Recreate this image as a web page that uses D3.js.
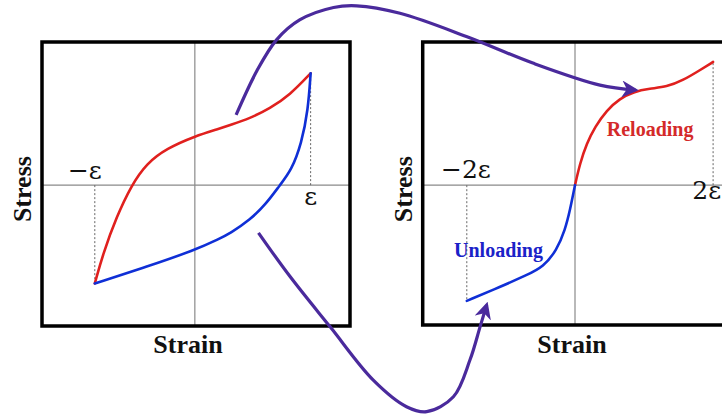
<!DOCTYPE html>
<html>
<head>
<meta charset="utf-8">
<script src="https://cdn.jsdelivr.net/npm/d3@7/dist/d3.min.js"></script>
<style>
  html, body { margin: 0; padding: 0; background: #fff; }
  svg { display: block; }
</style>
</head>
<body>
<svg id="chart" width="722" height="415"></svg>
<script>
// ---- Data (strain in units of ε, stress normalised to the peak of the first cycle) ----

// First cycle: loading from −ε up to +ε
const loadStrain = [-0.864, -0.792, -0.676, -0.547, -0.417, -0.244, 0.000, 0.216, 0.302, 0.475, 0.648, 0.820, 1.000];
const loadStress = [-0.879, -0.611, -0.283, 0.000, 0.194, 0.328, 0.438, 0.507, 0.537, 0.597, 0.686, 0.805, 1.000];

// First cycle: unloading from +ε back down to −ε
const unloadStrain = [1.000, 0.978, 0.921, 0.835, 0.734, 0.619, 0.475, 0.302, 0.216, 0.000, -0.417, -0.864];
const unloadStress = [1.000, 0.671, 0.373, 0.134, 0.000, -0.164, -0.313, -0.432, -0.477, -0.581, -0.731, -0.879];

// Second cycle (strain in units of ε): reloading branch from the origin up to 2ε
const reloadStrain = [0.000, 0.072, 0.170, 0.290, 0.459, 0.652, 0.845, 1.087, 1.329, 1.570, 1.812, 2.004];
const reloadStress = [0.000, 0.194, 0.373, 0.521, 0.670, 0.775, 0.834, 0.864, 0.878, 0.938, 1.028, 1.102];

// Second cycle: unloading branch from −2ε up to the origin
const unload2Strain = [-1.570, -1.087, -0.700, -0.459, -0.265, -0.145, -0.072, 0.000];
const unload2Stress = [-1.034, -0.909, -0.804, -0.730, -0.581, -0.402, -0.223, 0.000];

// Strain limit markers: [label, strain, stress at the curve end]
const leftMarkers  = [["−ε", -0.864, -0.879], ["ε", 1.000, 1.000]];
const rightMarkers = [["−2ε", -1.570, -1.034], ["2ε", 2.004, 1.102]];

// Branch names
const branchLabels = ["Reloading", "Unloading"];
const axisTitles = ["Strain", "Stress"];

// Connector arrows, in figure fractions (x of width, y of height)
const arrowTopPath = [[0.327, 0.277], [0.356, 0.170], [0.383, 0.096], [0.415, 0.048], [0.462, 0.018], [0.494, 0.014], [0.554, 0.032], [0.646, 0.088], [0.738, 0.152], [0.831, 0.205], [0.880, 0.217]];
const arrowBottomPath = [[0.358, 0.561], [0.402, 0.667], [0.457, 0.787], [0.517, 0.916], [0.563, 0.980], [0.591, 0.992], [0.628, 0.956], [0.651, 0.867], [0.665, 0.787], [0.674, 0.735]];

// ---- Layout ----
const W = 722, H = 415;
const svg = d3.select("#chart");
svg.append("rect").attr("width", W).attr("height", H).attr("fill", "#fff");

const RED = "#e0201e", BLUE = "#0f2fd6", PURPLE = "#4a2a9c", GRID = "#8a8a8a";
const serif = "'Liberation Serif', 'Times New Roman', serif";

const zip = (a, b) => a.map((v, i) => [v, b[i]]);

function panel(cfg) {
  const x = d3.scaleLinear().domain(cfg.xDomain).range(cfg.xRange);
  const y = d3.scaleLinear().domain(cfg.yDomain).range(cfg.yRange);
  const g = svg.append("g");

  // zero axes
  g.append("line")
    .attr("x1", x(cfg.xDomain[0])).attr("x2", x(cfg.xDomain[1]))
    .attr("y1", y(0)).attr("y2", y(0))
    .attr("stroke", GRID).attr("stroke-width", 1.2);
  g.append("line")
    .attr("x1", x(0)).attr("x2", x(0))
    .attr("y1", y(cfg.yDomain[0])).attr("y2", y(cfg.yDomain[1]))
    .attr("stroke", GRID).attr("stroke-width", 1.2);

  // dotted drop lines at the strain limits
  g.selectAll("line.drop").data(cfg.markers).join("line")
    .attr("class", "drop")
    .attr("x1", d => x(d[1])).attr("x2", d => x(d[1]))
    .attr("y1", y(0)).attr("y2", d => y(d[2]))
    .attr("stroke", "#666").attr("stroke-width", 1)
    .attr("stroke-dasharray", "2,2");

  // branches (B-spline smoothing through the traced points)
  const line = d3.line().x(d => x(d[0])).y(d => y(d[1])).curve(d3.curveBasis);
  cfg.curves.forEach(c => {
    g.append("path").attr("d", line(c.pts))
      .attr("fill", "none").attr("stroke", c.color)
      .attr("stroke-width", 2.6).attr("stroke-linecap", "round");
  });

  // strain limit labels
  g.selectAll("text.lim").data(cfg.markers).join("text")
    .attr("class", "lim")
    .attr("x", (d, i) => x(d[1]) + cfg.labelDx[i])
    .attr("y", (d, i) => y(0) + cfg.labelDy[i])
    .attr("text-anchor", (d, i) => cfg.labelAnchor[i])
    .attr("font-family", "'DejaVu Serif', serif")
    .attr("font-size", cfg.limSize)
    .attr("fill", "#111")
    .text(d => d[0]);

  // frame
  g.append("rect")
    .attr("x", cfg.xRange[0]).attr("y", cfg.yRange[1])
    .attr("width", cfg.xRange[1] - cfg.xRange[0])
    .attr("height", cfg.yRange[0] - cfg.yRange[1])
    .attr("fill", "none").attr("stroke", "#000").attr("stroke-width", 3.5);

  // axis titles
  g.append("text")
    .attr("x", cfg.titleX).attr("y", 353)
    .attr("text-anchor", "middle")
    .attr("font-family", serif).attr("font-weight", "bold").attr("font-size", 26)
    .attr("fill", "#111").text(axisTitles[0]);
  g.append("text")
    .attr("transform", `translate(${cfg.xRange[0] - 11},${y(0) + 4}) rotate(-90)`)
    .attr("text-anchor", "middle")
    .attr("font-family", serif).attr("font-weight", "bold").attr("font-size", 26)
    .attr("fill", "#111").text(axisTitles[1]);

  return { x, y, g };
}

const left = panel({
  xDomain: [-1.32, 1.34], xRange: [42, 350],
  yDomain: [-1.26, 1.28], yRange: [326, 42],
  markers: leftMarkers,
  labelDx: [7, 0], labelDy: [-6, 20], labelAnchor: ["end", "middle"], limSize: 25,
  titleX: 188,
  curves: [
    { pts: zip(loadStrain, loadStress), color: RED },
    { pts: zip(unloadStrain, unloadStress), color: BLUE }
  ]
});

const right = panel({
  xDomain: [-2.21, 2.21], xRange: [422.7, 727.3],
  yDomain: [-1.25, 1.28], yRange: [325, 42],
  markers: rightMarkers,
  labelDx: [24, 8], labelDy: [-7, 14], labelAnchor: ["end", "end"], limSize: 25,
  titleX: 572,
  curves: [
    { pts: zip(reloadStrain, reloadStress), color: RED },
    { pts: zip(unload2Strain, unload2Stress), color: BLUE }
  ]
});

// branch names in the second panel
right.g.append("text")
  .attr("x", right.x(1.09)).attr("y", right.y(0.44))
  .attr("text-anchor", "middle")
  .attr("font-family", serif).attr("font-weight", "bold").attr("font-size", 20)
  .attr("fill", "#d42a2a").text(branchLabels[0]);
right.g.append("text")
  .attr("x", right.x(-1.11)).attr("y", right.y(-0.64))
  .attr("text-anchor", "middle")
  .attr("font-family", serif).attr("font-weight", "bold").attr("font-size", 20)
  .attr("fill", "#1a22c8").text(branchLabels[1]);

// ---- Connector arrows ----
const fx = d3.scaleLinear().domain([0, 1]).range([0, W]);
const fy = d3.scaleLinear().domain([0, 1]).range([0, H]);

const defs = svg.append("defs");
defs.append("marker")
  .attr("id", "head")
  .attr("viewBox", "0 0 10 10")
  .attr("refX", 8).attr("refY", 5)
  .attr("markerUnits", "userSpaceOnUse")
  .attr("markerWidth", 17).attr("markerHeight", 17)
  .attr("orient", "auto")
  .append("path")
  .attr("d", "M0,0 L10,5 L0,10 L3,5 Z")
  .attr("fill", PURPLE);

const arrowLine = d3.line().x(d => fx(d[0])).y(d => fy(d[1])).curve(d3.curveCatmullRom.alpha(0.5));
[arrowTopPath, arrowBottomPath].forEach(p => {
  svg.append("path")
    .attr("d", arrowLine(p))
    .attr("fill", "none")
    .attr("stroke", PURPLE)
    .attr("stroke-width", 3.2)
    .attr("stroke-linecap", "butt")
    .attr("marker-end", "url(#head)");
});
</script>
</body>
</html>
